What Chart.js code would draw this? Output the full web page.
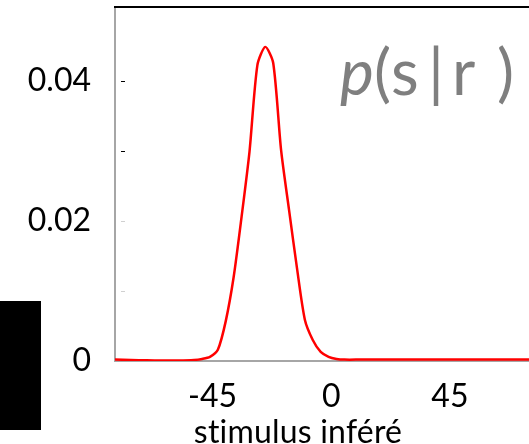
<!DOCTYPE html>
<html>
<head>
<meta charset="utf-8">
<script src="https://cdn.jsdelivr.net/npm/chart.js@4.4.1/dist/chart.umd.min.js"></script>
<style>
    html, body { margin: 0; padding: 0; background: #fff; }
    #wrap { width: 529px; height: 444px; overflow: hidden; }
</style>
</head>
<body>
<div id="wrap"><canvas id="posteriorChart" width="529" height="444"></canvas></div>
<script>
// inferred stimulus (deg) and posterior density p(s|r)
var stimulusDeg = [-82, -76, -70, -64, -58, -52, -49, -46, -43, -40, -37, -34, -31, -28, -25,
    -22, -19, -16, -13, -10, -7, -4, -1, 2, 5, 11, 17, 23, 29, 35, 41, 47, 53, 59, 65, 71, 75];
var posterior = [0.0002, 0.00015, 0.0001, 0.00007, 0.00007, 0.00015, 0.0003, 0.0006, 0.0016, 0.0057,
    0.0120, 0.0206, 0.0299, 0.0423, 0.0449, 0.0426, 0.0301, 0.0216, 0.0133, 0.0059, 0.0030, 0.0013,
    0.0006, 0.0003, 0.0002, 0.0002, 0.0002, 0.0002, 0.0002, 0.0002, 0.0002, 0.0002, 0.0002, 0.0002,
    0.0002, 0.0002, 0.0002];

var xTicks = [-45, 0, 45];
var yTicks = [0, 0.02, 0.04];
var yMarks = [0.01, 0.02, 0.03, 0.04];

var FONT = "Lato, 'Open Sans', sans-serif";
var AXIS_GREY = "#a6a6a6";

var points = [];
for (var i = 0; i < stimulusDeg.length; i++) {
    points.push({ x: stimulusDeg[i], y: posterior[i] });
}

// frame line on top, inner tick marks, formula label and axis title
var decorations = {
    id: "decorations",
    afterDraw: function(chart) {
        var ctx = chart.ctx;
        var area = chart.chartArea;
        var yScale = chart.scales.y;
        ctx.save();

        ctx.strokeStyle = "#000";
        ctx.lineWidth = 2;
        ctx.beginPath();
        ctx.moveTo(area.left - 1, area.top);
        ctx.lineTo(area.right, area.top);
        ctx.stroke();

        ctx.lineWidth = 1;
        yMarks.forEach(function(v) {
            var py = Math.round(yScale.getPixelForValue(v)) + 0.5;
            ctx.strokeStyle = v >= 0.03 ? "#000" : "#d0d0d0";
            ctx.beginPath();
            ctx.moveTo(area.left + 6, py);
            ctx.lineTo(area.left + 10, py);
            ctx.stroke();
        });

        ctx.fillStyle = "#000";
        ctx.fillRect(0, 301, 41, 129);

        // p(s|r), glyph by glyph
        ctx.fillStyle = "#7f7f7f";
        ctx.textBaseline = "alphabetic";
        ctx.textAlign = "left";
        ctx.font = "italic 64px " + FONT;
        ctx.fillText("p", 340, 95);
        ctx.font = "64px " + FONT;
        ctx.fillText("(", 374, 95);
        ctx.fillText("s", 391, 95);
        ctx.fillText("|", 428, 95);
        ctx.fillText("r", 452, 95);
        ctx.fillText(")", 497, 95);

        ctx.fillStyle = "#000";
        ctx.textAlign = "center";
        ctx.font = "32px " + FONT;
        ctx.letterSpacing = "0.2px";
        ctx.fillText("stimulus inféré", 298, 443);
        ctx.restore();
    }
};

function noPad(scale) {
    scale.paddingTop = 0;
    scale.paddingBottom = 0;
    scale.paddingLeft = 0;
    scale.paddingRight = 0;
}

var posteriorChart = new Chart(document.getElementById("posteriorChart"), {
    type: "line",
    data: {
        datasets: [{
            label: "p(s|r)",
            data: points,
            borderColor: "#ff0000",
            borderWidth: 2.5,
            pointRadius: 0,
            tension: 0.25,
            fill: false
        }]
    },
    options: {
        responsive: false,
        animation: false,
        devicePixelRatio: 1,
        layout: { padding: { top: 7, right: 0, bottom: 0, left: 0 } },
        plugins: {
            legend: { display: false },
            tooltip: { enabled: false }
        },
        scales: {
            x: {
                type: "linear",
                min: -82,
                max: 75,
                afterFit: function(scale) { scale.height = 83; noPad(scale); },
                afterBuildTicks: function(scale) {
                    scale.ticks = xTicks.map(function(v) { return { value: v }; });
                },
                grid: { display: false, drawTicks: false },
                border: { color: AXIS_GREY, width: 2 },
                ticks: {
                    color: "#000",
                    padding: 16,
                    maxRotation: 0,
                    font: { family: FONT, size: 32 }
                }
            },
            y: {
                min: 0,
                max: 0.0506,
                afterFit: function(scale) { scale.width = 115; noPad(scale); },
                afterBuildTicks: function(scale) {
                    scale.ticks = yTicks.map(function(v) { return { value: v }; });
                },
                grid: { display: false, drawTicks: false },
                border: { color: AXIS_GREY, width: 2 },
                ticks: {
                    color: "#000",
                    padding: 24,
                    font: { family: FONT, size: 32 },
                    callback: function(value) { return value === 0 ? "0" : value.toFixed(2); }
                }
            }
        }
    },
    plugins: [decorations]
});
</script>
</body>
</html>
